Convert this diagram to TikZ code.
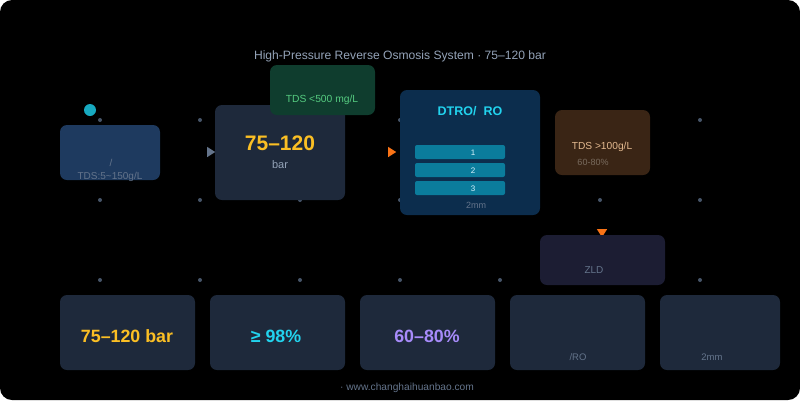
\documentclass[tikz,border=0pt]{standalone}
\usepackage{fontspec}
\setmainfont{Liberation Sans}
\usetikzlibrary{shapes.geometric}
\definecolor{bgc}{HTML}{000000}
\definecolor{dotc}{HTML}{475569}
\definecolor{inbox}{HTML}{1E3A5F}
\definecolor{slate}{HTML}{1E293B}
\definecolor{greenbox}{HTML}{0F3D2E}
\definecolor{greentx}{HTML}{4ADE80}
\definecolor{dtrobox}{HTML}{0C2D4D}
\definecolor{barc}{HTML}{0B7C9C}
\definecolor{cyantx}{HTML}{22D3EE}
\definecolor{brownbox}{HTML}{3A2515}
\definecolor{tantx}{HTML}{E3B98F}
\definecolor{zldbox}{HTML}{1C1D33}
\definecolor{graytx}{HTML}{64748B}
\definecolor{lgray}{HTML}{94A3B8}
\definecolor{yellowtx}{HTML}{FBBF24}
\definecolor{purpletx}{HTML}{A78BFA}
\definecolor{orangec}{HTML}{F97316}
\definecolor{srcc}{HTML}{17A9C0}
\begin{document}
\begin{tikzpicture}[x=1pt,y=-1pt,
  box/.style={rounded corners=7pt,draw=none},
  txt/.style={inner sep=0pt,anchor=base,font=\fontsize{10}{12}\selectfont},
  dotn/.style={circle,fill=dotc,inner sep=0pt,minimum size=4pt},
  tri/.style={isosceles triangle,isosceles triangle apex angle=65,inner sep=0pt,minimum size=8pt,draw=none}]
\useasboundingbox (0,0) rectangle (800,400);
\fill[white] (0,0) rectangle (800,400);
\fill[bgc,rounded corners=12pt] (0,0) rectangle (800,400);
% grid dots
\foreach \x in {100,200,...,700}{\foreach \y in {120,200,280}{\node[dotn] (d\x-\y) at (\x,\y) {};}}
% title
\node[txt,text=lgray,font=\fontsize{12.1}{14}\selectfont] (title) at (400,59) {High-Pressure Reverse Osmosis System · 75–120 bar};
% input
\fill[inbox,box] (60,125) rectangle (160,180);
\node[circle,fill=srcc,inner sep=0pt,minimum size=12pt] (src) at (90,110) {};
\node[txt,text=graytx] (inslash) at (111,166) {/};
\node[txt,text=graytx] (intds) at (110,179) {TDS:5\textasciitilde150g/L};
% pressure
\node[tri,fill=graytx] (a1) at (210,152) {};
\fill[slate,box] (215,105) rectangle (345,200);
\node[txt,text=yellowtx,font=\bfseries\fontsize{21}{24}\selectfont] (pv) at (280,150) {75–120};
\node[txt,text=lgray,font=\fontsize{11}{13}\selectfont] (pbar) at (280,168) {bar};
% green
\fill[greenbox,box] (270,65) rectangle (375,115);
\node[txt,text=greentx!80!gray,font=\fontsize{10.3}{12}\selectfont] (gt) at (322,102) {TDS <500 mg/L};
% DTRO
\node[tri,fill=orangec] (a2) at (391,152) {};
\fill[dtrobox,box] (400,90) rectangle (540,215);
\node[txt,text=cyantx,font=\bfseries\fontsize{12.5}{14}\selectfont] (dt) at (470,115) {DTRO/\ \ RO};
\foreach \i/\y in {1/145,2/163,3/181}{
  \fill[barc,rounded corners=2pt] (415,\y) rectangle (505,\y+14);
  \node[txt,text=white!85!cyan,font=\fontsize{8}{9}\selectfont] (b\i) at (473,\y+10.5) {\i};
}
\node[txt,text=graytx,font=\fontsize{9}{10}\selectfont] (dmm) at (476,208) {2mm};
% brown
\fill[brownbox,box] (555,110) rectangle (650,175);
\node[txt,text=tantx,font=\fontsize{10.2}{12}\selectfont] (bt) at (602,149) {TDS >100g/L};
\node[txt,text=tantx!45!gray!70!black,font=\fontsize{9}{10}\selectfont] (bp) at (593,165) {60-80\%};
% ZLD
\node[tri,fill=orangec,rotate=-90] (a3) at (602,232) {};
\fill[zldbox,box] (540,235) rectangle (665,285);
\node[txt,text=graytx] (zld) at (594,273) {ZLD};
% bottom cards
\fill[slate,box] (60,295) rectangle (195,370);
\fill[slate,box] (210,295) rectangle (345,370);
\fill[slate,box] (360,295) rectangle (495,370);
\fill[slate,box] (510,295) rectangle (645,370);
\fill[slate,box] (660,295) rectangle (780,370);
\node[txt,text=yellowtx,font=\bfseries\fontsize{17.8}{20}\selectfont] (c1) at (127,342) {75–120 bar};
\node[txt,text=cyantx,font=\bfseries\fontsize{17.8}{20}\selectfont] (c2) at (276,342) {≥ 98\%};
\node[txt,text=purpletx,font=\bfseries\fontsize{17.8}{20}\selectfont] (c3) at (427,342) {60–80\%};
\node[txt,text=graytx,font=\fontsize{9.5}{11}\selectfont] (c4) at (578,360) {/RO};
\node[txt,text=graytx,font=\fontsize{9.5}{11}\selectfont] (c5) at (712,360) {2mm};
% footer
\node[txt,text=graytx,font=\fontsize{10.2}{12}\selectfont] (foot) at (407,390) {· www.changhaihuanbao.com};
\end{tikzpicture}
\end{document}
